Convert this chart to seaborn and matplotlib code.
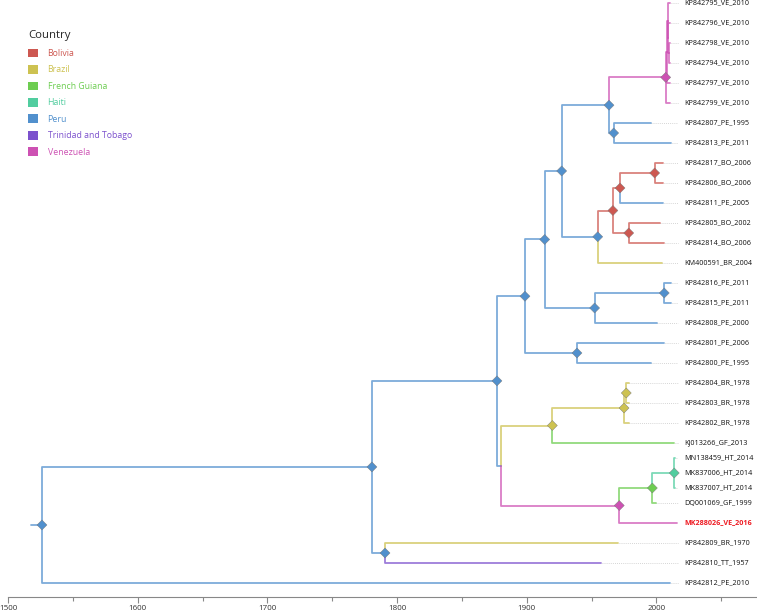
import matplotlib
matplotlib.use("Agg")
import matplotlib.pyplot as plt
from matplotlib.patches import Patch
from matplotlib.ticker import MultipleLocator
import seaborn as sns
import pandas as pd

countries = ["Bolivia", "Brazil", "French Guiana", "Haiti", "Peru",
             "Trinidad and Tobago", "Venezuela"]
country_codes = ["BO", "BR", "GF", "HT", "PE", "TT", "VE"]

# tips (top to bottom)
tip_names = ["KP842795_VE_2010", "KP842796_VE_2010", "KP842798_VE_2010", "KP842794_VE_2010",
             "KP842797_VE_2010", "KP842799_VE_2010", "KP842807_PE_1995", "KP842813_PE_2011",
             "KP842817_BO_2006", "KP842806_BO_2006", "KP842811_PE_2005", "KP842805_BO_2002",
             "KP842814_BO_2006", "KM400591_BR_2004", "KP842816_PE_2011", "KP842815_PE_2011",
             "KP842808_PE_2000", "KP842801_PE_2006", "KP842800_PE_1995", "KP842804_BR_1978",
             "KP842803_BR_1978", "KP842802_BR_1978", "KJ013266_GF_2013", "MN138459_HT_2014",
             "MK837006_HT_2014", "MK837007_HT_2014", "DQ001069_GF_1999", "MK288026_VE_2016",
             "KP842809_BR_1970", "KP842810_TT_1957", "KP842812_PE_2010"]
tip_dates = [2010.4, 2010.4, 2010.4, 2010.4, 2010.4, 2010.4, 1995.5, 2011.0,
             2005.3, 2005.3, 2005.3, 2002.4, 2005.6, 2004.0, 2011.0, 2011.0,
             2000.1, 2006.0, 1995.5, 1978.5, 1978.5, 1978.5, 2013.5, 2014.6,
             2014.6, 2014.6, 1999.3, 2016.2, 1970.3, 1957.1, 2010.4]
tip_rows = [0, 1, 2, 3, 4, 5, 6, 7, 8, 9, 10, 11, 12, 13, 14, 15, 16, 17, 18, 19,
            20, 21, 22, 22.75, 23.5, 24.25, 25, 26, 27, 28, 29]
tip_parents = ["Qy", "Qw", "Qv", "Qv", "Qx", "Q", "R", "R", "V", "V", "T", "U", "U", "P",
               "N", "N", "M", "K", "K", "X2", "X2", "W", "G", "Z2", "Z2", "Z2", "Y2", "H",
               "D", "D", "root"]

# internal nodes
node_names = ["root", "B", "D", "C", "F", "E", "K", "I", "L", "M", "N", "O", "R", "Q",
              "Qx", "Qy", "Qw", "Qv", "P", "S", "T", "V", "U", "G", "W", "X2", "H", "Y2", "Z2"]
node_parents = [None, "root", "B", "B", "C", "C", "E", "E", "I", "I", "M", "L", "O", "O",
                "Q", "Qx", "Qy", "Qw", "L", "P", "S", "T", "S", "F", "G", "W", "F", "H", "Y2"]
node_dates = [1526.2, 1780.6, 1790.7, 1877.0, 1880.3, 1898.6, 1938.7, 1913.8, 1926.9, 1952.3,
              2006.0, 1963.4, 1967.0, 2007.1, 2008.2, 2008.6, 2009.0, 2009.4, 1954.7, 1966.4,
              1971.9, 1998.6, 1978.6, 1919.7, 1975.0, 1976.7, 1971.3, 1996.8, 2013.7]
node_states = ["Peru", "Peru", "Peru", "Peru", "Peru", "Peru", "Peru", "Peru", "Peru", "Peru",
               "Peru", "Peru", "Peru", "Venezuela", "Venezuela", "Venezuela", "Venezuela",
               "Venezuela", "Peru", "Bolivia", "Bolivia", "Bolivia", "Bolivia", "Brazil",
               "Brazil", "Brazil", "Venezuela", "French Guiana", "Haiti"]
node_marked = [True, True, True, True, False, True, True, True, True, True, True, True, True,
               True, False, False, False, False, True, True, True, True, True, True, True, True,
               True, True, True]
root_stem_start = 1517.7
highlight_tip = "MK288026_VE_2016"

palette = dict(zip(countries, sns.hls_palette(7, l=0.56, s=0.55)))

# ---- layout ----
date = {}
parent = {}
state = {}
ypos = {}
children = {}
for n, d, r, p in zip(tip_names, tip_dates, tip_rows, tip_parents):
    date[n] = d
    parent[n] = p
    ypos[n] = r
    state[n] = countries[country_codes.index(n.split("_")[1])]
for n, p, d, s in zip(node_names, node_parents, node_dates, node_states):
    date[n] = d
    parent[n] = p
    state[n] = s
for n, p in parent.items():
    if p is not None:
        children.setdefault(p, []).append(n)


def get_y(n):
    if n not in ypos:
        ys = [get_y(c) for c in children[n]]
        ypos[n] = (min(ys) + max(ys)) / 2
    return ypos[n]


get_y("root")

rows = []
for i, (n, p) in enumerate(parent.items()):
    if p is None:
        pts = [(root_stem_start, ypos[n]), (date[n], ypos[n])]
    else:
        pts = [(date[p], ypos[p]), (date[p], ypos[n]), (date[n], ypos[n])]
    for x, y in pts:
        rows.append({"seg": i, "x": x, "y": y, "state": state[n]})
seg_df = pd.DataFrame(rows)

node_df = pd.DataFrame({"x": [date[n] for n, m in zip(node_names, node_marked) if m],
                        "y": [ypos[n] for n, m in zip(node_names, node_marked) if m],
                        "state": [state[n] for n, m in zip(node_names, node_marked) if m]})

# ---- figure ----
sns.set_style("white")
plt.rcParams["font.family"] = ["Open Sans", "DejaVu Sans"]

fig = plt.figure(figsize=(7.57, 6.12), dpi=100)
ax = fig.add_axes([8 / 757, 15 / 612, 749 / 757, 597 / 612])

label_x = 2021.3
dot_end = 2016.3
for n, d in zip(tip_names, tip_dates):
    if d < dot_end - 0.5:
        ax.plot([d + 0.6, dot_end], [ypos[n], ypos[n]], color="#c8c8c8",
                linestyle=(0, (1, 1.5)), linewidth=0.6, zorder=1)
    if n == highlight_tip:
        ax.text(label_x, ypos[n], n, fontsize=5.2, color="#ee1c24", fontweight="bold",
                va="center", ha="left")
    else:
        ax.text(label_x, ypos[n], n, fontsize=5.2, color="#111111", va="center", ha="left")

sns.lineplot(data=seg_df, x="x", y="y", hue="state", units="seg", estimator=None,
             sort=False, palette=palette, hue_order=countries, legend=False,
             linewidth=1.3, alpha=0.75, ax=ax, zorder=2)
sns.scatterplot(data=node_df, x="x", y="y", hue="state", palette=palette,
                hue_order=countries, marker="D", s=26, edgecolor="#777777",
                linewidth=0.3, legend=False, ax=ax, zorder=3)

ax.set_xlim(1500, 2077.5)
ax.set_ylim(29.7, -0.15)
ax.set_xlabel("")
ax.set_ylabel("")
ax.set_yticks([])
ax.xaxis.set_major_locator(MultipleLocator(100))
ax.xaxis.set_minor_locator(MultipleLocator(50))
ax.tick_params(axis="x", which="major", length=4, width=0.8, color="#888888",
               labelsize=5.8, labelcolor="#333333", pad=2, bottom=True)
ax.tick_params(axis="x", which="minor", length=3, width=0.8, color="#888888", bottom=True)
for side in ["top", "right", "left"]:
    ax.spines[side].set_visible(False)
ax.spines["bottom"].set_color("#888888")
ax.spines["bottom"].set_linewidth(0.8)

handles = [Patch(facecolor=palette[c], edgecolor="none", label=c) for c in countries]
leg = fig.legend(handles=handles, title="Country", loc="upper left",
                 bbox_to_anchor=(24 / 757, 1 - 26 / 612), bbox_transform=fig.transFigure,
                 frameon=False, fontsize=6.3, title_fontsize=8.2, borderpad=0,
                 handlelength=1.15, handleheight=1.15, handletextpad=1.05,
                 labelspacing=0.82, alignment="left")
for t, c in zip(leg.get_texts(), countries):
    t.set_color(palette[c])

fig.savefig("out.png", dpi=100)
